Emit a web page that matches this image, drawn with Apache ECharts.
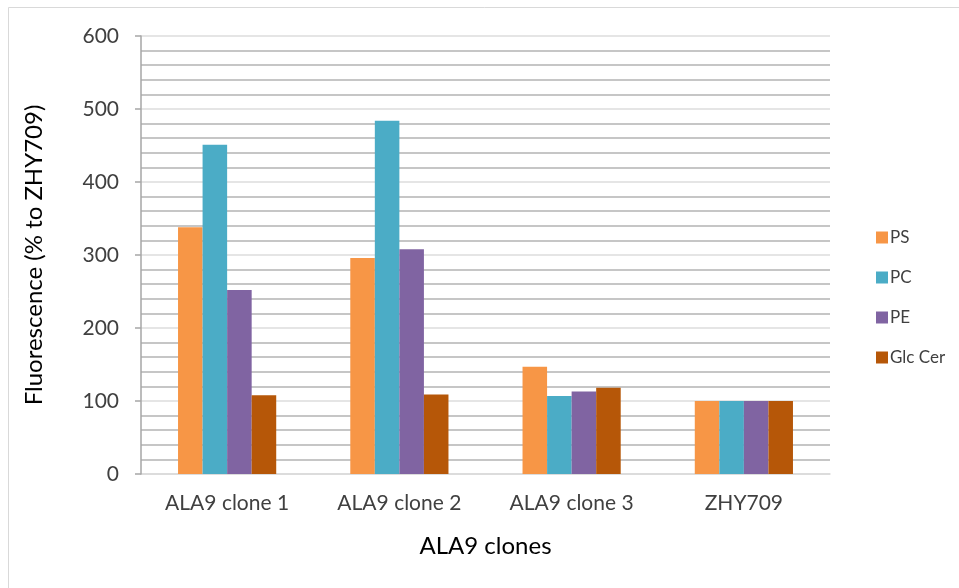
<!DOCTYPE html>
<html>
<head>
<meta charset="utf-8">
<script src="https://cdn.jsdelivr.net/npm/echarts@6/dist/echarts.min.js"></script>
<style>
html,body{margin:0;padding:0;background:#fff;}
#chart{width:959px;height:588px;}
</style>
</head>
<body>
<div id="chart"></div>
<script>
const categories = ['ALA9 clone 1', 'ALA9 clone 2', 'ALA9 clone 3', 'ZHY709'];
const seriesNames = ['PS', 'PC', 'PE', 'Glc Cer'];
const psValues = [338, 296, 147, 100];
const pcValues = [451, 484, 107, 100];
const peValues = [252, 308, 113, 100];
const glcCerValues = [108, 109, 118, 100];
const yTickLabels = ['0', '100', '200', '300', '400', '500', '600'];
const colors = ['#F79646', '#4BACC6', '#8064A2', '#B65708'];

const FONT = 'Lato';
const seriesValues = [psValues, pcValues, peValues, glcCerValues];

const chart = echarts.init(document.getElementById('chart'));
chart.setOption({
  animation: false,
  backgroundColor: '#fff',
  textStyle: { fontFamily: FONT },
  graphic: [{
    type: 'rect',
    shape: { x: 8.5, y: 7.5, width: 1000, height: 700 },
    style: { fill: 'none', stroke: '#d9d9d9', lineWidth: 1 },
    silent: true, z: -10
  }],
  grid: { left: 141, right: 129, top: 36, bottom: 114, containLabel: false },
  legend: {
    orient: 'vertical',
    left: 871,
    top: 224,
    itemWidth: 12,
    itemHeight: 12,
    itemGap: 23,
    icon: 'rect',
    textStyle: { fontFamily: FONT, fontSize: 17, color: '#404040', padding: [0, 0, 0, -3] },
    data: seriesNames
  },
  xAxis: {
    type: 'category',
    data: categories,
    name: 'ALA9 clones',
    nameLocation: 'middle',
    nameGap: 60,
    nameTextStyle: { fontFamily: FONT, fontSize: 24, color: '#000' },
    axisLine: { lineStyle: { color: '#d9d9d9', width: 1.5 } },
    axisTick: { show: false },
    axisLabel: { fontFamily: FONT, fontSize: 21, color: '#404040', margin: 19 }
  },
  yAxis: [{
    type: 'value',
    min: 0, max: 600, interval: 100,
    name: 'Fluorescence (% to ZHY709)',
    nameLocation: 'middle',
    nameGap: 95,
    nameRotate: 90,
    nameTextStyle: { fontFamily: FONT, fontSize: 24, color: '#000' },
    axisLine: { show: true, lineStyle: { color: '#a6a6a6', width: 1.5 } },
    axisTick: { show: true, inside: false, length: 6, lineStyle: { color: '#a6a6a6', width: 1.5 } },
    axisLabel: {
      fontFamily: FONT, fontSize: 21, color: '#404040', margin: 22,
      formatter: function (v) { return yTickLabels[Math.round(v / 100)]; }
    },
    splitLine: { show: false },
    z: 5
  }, {
    type: 'value',
    position: 'left',
    min: 0, max: 600, interval: 20,
    axisLine: { show: false },
    axisTick: { show: false },
    axisLabel: { show: false },
    splitLine: {
      show: true,
      lineStyle: { color: ['#dcdcdc', '#b3b3b3', '#b3b3b3', '#b3b3b3', '#b3b3b3'], width: 1.5 }
    }
  }],
  series: seriesNames.map(function (name, i) {
    return {
      name: name,
      type: 'bar',
      yAxisIndex: 0,
      data: seriesValues[i],
      barGap: '0%',
      barCategoryGap: '43%',
      itemStyle: { color: colors[i] }
    };
  })
});
</script>
</body>
</html>
